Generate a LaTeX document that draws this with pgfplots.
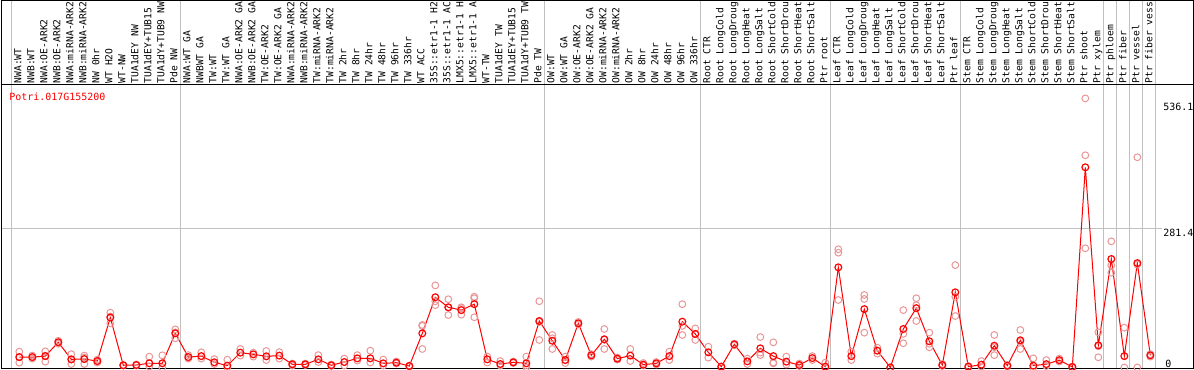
\documentclass[border=0pt]{standalone}
\usepackage{pgfplots}
\pgfplotsset{compat=1.18}
\usepackage{fontspec}
\newfontfamily\pixfont{DejaVu Sans Mono}
\definecolor{gridc}{RGB}{192,192,192}
\definecolor{rep}{RGB}{232,150,150}
\begin{document}
\begin{tikzpicture}
\begin{axis}[
  scale only axis, width=1194bp, height=370bp,
  xmin=-1.485, xmax=90.36, ymin=-5.05, ymax=742.9,
  axis line style={draw=none},
  xtick=\empty, ytick=\empty,
  clip=false,
]
% grid lines
\pgfplotsinvokeforeach{-0.62,12.38,40.38,52.38,62.38,72.38,83.38,84.38,85.38,86.38,87.38}{
  \draw[gridc, line width=1bp] (axis cs:#1,-1.6) -- (axis cs:#1,741.9);
}
\draw[gridc, line width=1bp] (axis cs:-1.392,281.4) -- (axis cs:87.9,281.4);
% frame
\draw[black, line width=1bp] (axis cs:-1.392,-1.6) rectangle (axis cs:90.31,741.9);
\draw[black, line width=1bp] (axis cs:-1.392,571.1) -- (axis cs:90.31,571.1);
% title and value labels
\node[anchor=west, text=red, inner sep=0pt, font=\pixfont\fontsize{10}{12}\selectfont] at (axis cs:-0.77,547.4) {Potri.017G155200};
\node[anchor=north west, inner sep=0pt, yshift=-1bp, font=\pixfont\fontsize{10}{12}\selectfont] at (axis cs:87.98,536.1) {536.1};
\node[anchor=north west, inner sep=0pt, yshift=-1bp, font=\pixfont\fontsize{10}{12}\selectfont] at (axis cs:87.98,281.4) {281.4};
\node[anchor=north west, inner sep=0pt, yshift=-1bp, font=\pixfont\fontsize{10}{12}\selectfont] at (axis cs:88.15,17) {0};
% sample names
\addplot[draw=none, mark=none, nodes near coords, point meta=explicit symbolic,
  nodes near coords style={rotate=90, anchor=mid west, inner sep=0pt, text=black,
  font=\pixfont\fontsize{9.7}{11}\selectfont}] coordinates {
(0,574)[NWA:WT] (1,574)[NWB:WT] (2,574)[NWA:OE-ARK2] (3,574)[NWB:OE-ARK2]
(4,574)[NWA:miRNA-ARK2] (5,574)[NWB:miRNA-ARK2] (6,574)[NW 0hr] (7,574)[WT H2O]
(8,574)[WT-NW] (9,574)[TUA1dEY NW] (10,574)[TUA1dEY+TUB15] (11,574)[TUA1dY+TUB9 NW]
(12,574)[Pde NW] (13,574)[NWA:WT GA] (14,574)[NWBWT GA] (15,574)[TW:WT]
(16,574)[TW:WT GA] (17,574)[NWA:OE-ARK2 GA] (18,574)[NWB:OE-ARK2 GA] (19,574)[TW:OE-ARK2]
(20,574)[TW:OE-ARK2 GA] (21,574)[NWA:miRNA-ARK2] (22,574)[NWB:miRNA-ARK2] (23,574)[TW:miRNA-ARK2]
(24,574)[TW:miRNA-ARK2] (25,574)[TW 2hr] (26,574)[TW 8hr] (27,574)[TW 24hr]
(28,574)[TW 48hr] (29,574)[TW 96hr] (30,574)[TW 336hr] (31,574)[WT ACC]
(32,574)[35S::etr1-1 H2] (33,574)[35S::etr1-1 AC] (34,574)[LMX5::etr1-1 H] (35,574)[LMX5::etr1-1 A]
(36,574)[WT-TW] (37,574)[TUA1dEY TW] (38,574)[TUA1dEY+TUB15] (39,574)[TUA1dY+TUB9 TW]
(40,574)[Pde TW] (41,574)[OW:WT] (42,574)[OW:WT GA] (43,574)[OW:OE-ARK2]
(44,574)[OW:OE-ARK2 GA] (45,574)[OW:miRNA-ARK2] (46,574)[OW:miRNA-ARK2] (47,574)[OW 2hr]
(48,574)[OW 8hr] (49,574)[OW 24hr] (50,574)[OW 48hr] (51,574)[OW 96hr]
(52,574)[OW 336hr] (53,574)[Root CTR] (54,574)[Root LongCold] (55,574)[Root LongDroug]
(56,574)[Root LongHeat] (57,574)[Root LongSalt] (58,574)[Root ShortCold] (59,574)[Root ShortDrou]
(60,574)[Root ShortHeat] (61,574)[Root ShortSalt] (62,574)[Ptr root] (63,574)[Leaf CTR]
(64,574)[Leaf LongCold] (65,574)[Leaf LongDroug] (66,574)[Leaf LongHeat] (67,574)[Leaf LongSalt]
(68,574)[Leaf ShortCold] (69,574)[Leaf ShortDrou] (70,574)[Leaf ShortHeat] (71,574)[Leaf ShortSalt]
(72,574)[Ptr leaf] (73,574)[Stem CTR] (74,574)[Stem LongCold] (75,574)[Stem LongDroug]
(76,574)[Stem LongHeat] (77,574)[Stem LongSalt] (78,574)[Stem ShortCold] (79,574)[Stem ShortDrou]
(80,574)[Stem ShortHeat] (81,574)[Stem ShortSalt] (82,574)[Ptr shoot] (83,574)[Ptr xylem]
(84,574)[Ptr phloem] (85,574)[Ptr fiber] (86,574)[Ptr vessel] (87,574)[Ptr fiber vess]
};
% replicates
\addplot[only marks, mark=o, mark size=3.4bp, mark options={rep, line width=1bp}] coordinates {
(0,32)(0,9.7)(0,21) (1,18)(1,24) (2,32.7)(2,11.7)(2,24) (3,54)(3,48) (4,27)(4,7)(4,16)
(5,7)(5,20)(5,24) (6,16)(6,10) (7,110.8)(7,89.3)(7,103) (8,4)(8,5) (9,4)(9,6)
(10,21.9)(10,2) (11,24.6)(11,0) (12,77)(12,59)(12,71) (13,25)(13,18) (14,30.7)(14,18)
(15,17)(15,7) (16,15.8)(16,0) (17,37.4)(17,24) (18,30)(18,22) (19,33.4)(19,15)
(20,31)(20,18) (21,4)(21,8) (22,5)(22,8) (23,25)(23,11) (24,3)(24,6) (25,18)(25,4)
(26,25)(26,14) (27,34)(27,10) (28,16)(28,4) (29,12)(29,8) (30,2)(30,4)
(31,86)(31,37.4)(31,84) (32,166)(32,126)(32,134) (33,138)(33,106)(33,121)
(34,121.7)(34,106.7)(34,120) (35,143)(35,101.5)(35,140) (36,22)(36,10) (37,13)(37,4)
(38,12)(38,9) (39,22)(39,4)(39,0) (40,134)(40,55.6)(40,92) (41,65.7)(41,37.4)(41,59)
(42,22)(42,9) (43,92)(43,87) (44,27)(44,22) (45,77.8)(45,37.4)(45,56) (46,20)(46,16)
(47,37.4)(47,13) (48,9)(48,4) (49,11)(49,6) (50,32)(50,15) (51,128)(51,65.7)(51,84)
(52,79)(52,55.6)(52,68) (53,42)(53,19.9) (54,2)(54,1) (55,48)(55,45) (56,18)(56,7)
(57,61.6)(57,25)(57,30) (58,50.8)(58,8.4)(58,10) (59,22)(59,6) (60,8)(60,3) (61,23)(61,15)
(62,9.8)(62,0) (63,239)(63,232)(63,136.4) (64,32)(64,15) (65,146.6)(65,138.5)(65,70.4)
(66,40)(66,28) (67,0) (68,116)(68,49)(68,68) (69,140)(69,94)(69,126) (70,70.4)(70,40.8)(70,48)
(71,3)(71,7) (72,207)(72,143)(72,104) (73,0)(73,3) (74,13)(74,2) (75,65.7)(75,25)(75,41)
(76,2)(76,5) (77,75.8)(77,37.4)(77,52) (78,18.5)(78,0) (79,15)(79,3) (80,18)(80,12)
(81,0)(81,2) (82,544)(82,429)(82,241) (83,71)(83,20.6)(83,43) (84,255)(84,206.6)(84,191.7)
(85,80.5)(85,0) (86,425)(86,0)(86,208) (87,27)(87,22)
};
% means
\addplot[red, line width=1bp, mark=o, mark size=3.4bp, mark options={red, line width=1.2bp}] coordinates {
(0,21)(1,21)(2,23)(3,51)(4,16.5)(5,17)(6,13)(7,101)(8,4.5)(9,5)(10,8.5)(11,8.5)(12,69)
(13,21)(14,23)(15,10.5)(16,3.7)(17,30)(18,26.6)(19,22.6)(20,24)(21,6.4)(22,6.4)(23,16.5)
(24,4.4)(25,11)(26,18.5)(27,18.5)(28,8.4)(29,9.7)(30,3)(31,69)(32,142)(33,121.7)(34,116)
(35,128)(36,16.5)(37,7)(38,10.4)(39,8.4)(40,94)(41,54)(42,15)(43,89.3)(44,24.6)(45,57)
(46,17.8)(47,24)(48,5.7)(49,8.4)(50,23)(51,92.6)(52,67.7)(53,30.7)(54,1.7)(55,46.8)
(56,12.5)(57,38.7)(58,23)(59,11.8)(60,5)(61,19)(62,1.7)(63,202.5)(64,23)(65,118)(66,34)
(67,0)(68,77.8)(69,120)(70,53)(71,5)(72,152)(73,1.7)(74,5.7)(75,44)(76,3.7)(77,55)
(78,3.7)(79,6.8)(80,14.8)(81,1)(82,404.7)(83,44.8)(84,219.3)(85,23)(86,211)(87,24.6)
};
\end{axis}
\pgfresetboundingbox
\useasboundingbox (current axis.south west) rectangle (current axis.north east);
\end{tikzpicture}
\end{document}
